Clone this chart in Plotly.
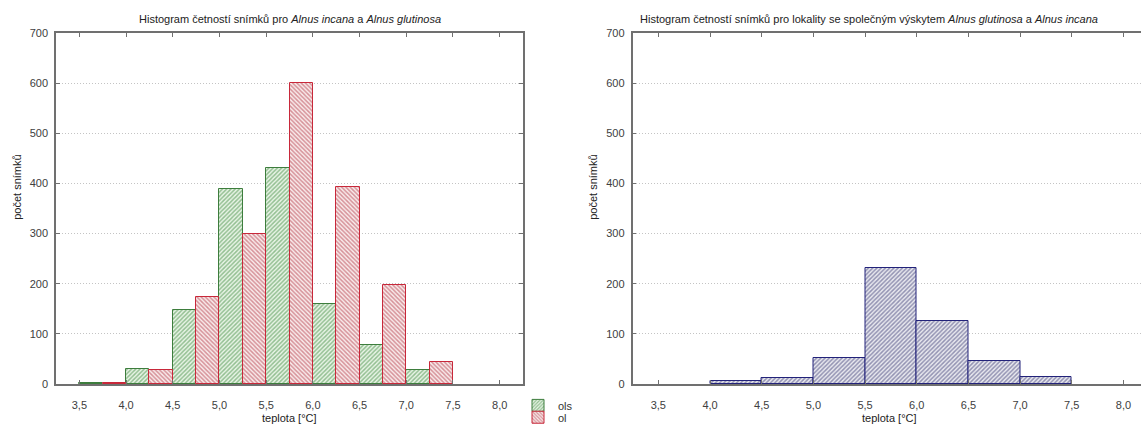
import plotly.graph_objects as go

# ---- data ----
bin_centers_left = [3.75, 4.25, 4.75, 5.25, 5.75, 6.25, 6.75, 7.25]
ols_counts = [3, 30, 147, 389, 430, 160, 78, 27]
ol_counts = [3, 27, 174, 300, 600, 393, 197, 44]

bin_centers_right = [4.25, 4.75, 5.25, 5.75, 6.25, 6.75, 7.25]
both_counts = [6, 12, 51, 231, 126, 46, 13]

x_ticks = [3.5, 4.0, 4.5, 5.0, 5.5, 6.0, 6.5, 7.0, 7.5, 8.0]
y_ticks = [0, 100, 200, 300, 400, 500, 600, 700]

title_left = "Histogram četností snímků pro <i>Alnus incana</i> a <i>Alnus glutinosa</i>"
title_right = ("Histogram četností snímků pro lokality se společným výskytem "
               "<i>Alnus glutinosa</i> a <i>Alnus incana</i>")
x_title = "teplota [°C]"
y_title = "počet snímků"

FONT = "Liberation Sans, Arial, sans-serif"
W, H = 1141, 432
MT, MB = 33, 43
PH = H - MT - MB

def px_x(p):
    return p / W

def px_y(p):
    return (H - MB - p) / PH

fig = go.Figure()

fig.add_trace(go.Bar(
    x=bin_centers_left, y=ols_counts, name="ols", legend="legend",
    marker=dict(color="white", line=dict(color="#3d7d3d", width=1),
                pattern=dict(shape="/", fgcolor="#3a883a", bgcolor="#eaf5e8",
                             size=3, solidity=0.5, fillmode="overlay")),
    xaxis="x", yaxis="y"))
fig.add_trace(go.Bar(
    x=bin_centers_left, y=ol_counts, name="ol", legend="legend2",
    marker=dict(color="white", line=dict(color="#c8283a", width=1),
                pattern=dict(shape="\\", fgcolor="#b33644", bgcolor="#f9ecec",
                             size=3, solidity=0.5, fillmode="overlay")),
    xaxis="x", yaxis="y"))
fig.add_trace(go.Bar(
    x=bin_centers_right, y=both_counts, name="both", showlegend=False,
    marker=dict(color="white", line=dict(color="#22227a", width=1),
                pattern=dict(shape="/", fgcolor="#3a3a74", bgcolor="#eaeaf0",
                             size=3, solidity=0.5, fillmode="overlay")),
    xaxis="x2", yaxis="y2"))

axis_common = dict(
    showline=True, linecolor="#707070", linewidth=1.5,
    ticks="inside", ticklen=4, tickcolor="#707070",
    tickfont=dict(family=FONT, size=11, color="#404040"),
    zeroline=False,
)
grid_common = dict(showgrid=True, gridcolor="#c4c4c4", griddash="1px,2px", gridwidth=1)

leg_common = dict(xanchor="left", yanchor="top", bgcolor="rgba(0,0,0,0)",
                  font=dict(family=FONT, size=11, color="#333333"),
                  tracegroupgap=0, itemwidth=30)

fig.update_layout(
    width=W, height=H,
    margin=dict(l=0, r=0, t=MT, b=MB),
    paper_bgcolor="white", plot_bgcolor="white",
    separators=", ",
    barmode="group", bargap=0, bargroupgap=0,
    font=dict(family=FONT, size=11, color="#333333"),
    xaxis=dict(domain=[px_x(56), px_x(523)], range=[3.25, 8.25],
               tickvals=x_ticks, tickformat=".1f", mirror="allticks",
               showgrid=False, anchor="y", ticklabelstandoff=10, **axis_common),
    yaxis=dict(domain=[0, 1], range=[0, 700], tickvals=y_ticks,
               mirror="allticks", anchor="x",
               ticklabelstandoff=4, **grid_common, **axis_common),
    xaxis2=dict(domain=[px_x(632.5), 1.0], range=[3.25, 8.17],
                tickvals=x_ticks, tickformat=".1f", mirror="allticks",
                showgrid=False, anchor="y2", ticklabelstandoff=10, **axis_common),
    yaxis2=dict(domain=[0, 1], range=[0, 700], tickvals=y_ticks,
                mirror=False, anchor="x2",
                ticklabelstandoff=4, **grid_common, **axis_common),
    legend=dict(x=px_x(518), y=px_y(396), **leg_common),
    legend2=dict(x=px_x(518), y=px_y(408), **leg_common),
    showlegend=True,
)

ann = dict(xref="paper", yref="paper", showarrow=False,
           font=dict(family=FONT, size=11, color="#222222"))
fig.add_annotation(text=title_left, x=px_x(289.5), y=px_y(19), xanchor="center",
                   yanchor="middle", **ann)
fig.add_annotation(text=title_right, x=px_x(868.6), y=px_y(19), xanchor="center",
                   yanchor="middle", **ann)
fig.add_annotation(text=x_title, x=px_x(289.5), y=px_y(423), xanchor="center",
                   yanchor="middle", **ann)
fig.add_annotation(text=x_title, x=px_x(889.5), y=px_y(423), xanchor="center",
                   yanchor="middle", **ann)
fig.add_annotation(text=y_title, x=px_x(17), y=px_y(190), textangle=-90,
                   xanchor="center", yanchor="middle", **ann)
fig.add_annotation(text=y_title, x=px_x(593), y=px_y(190), textangle=-90,
                   xanchor="center", yanchor="middle", **ann)

fig.write_html("out.html", config={"displayModeBar": False},
               post_script="document.body.style.margin='0';document.body.style.overflow='hidden';")
